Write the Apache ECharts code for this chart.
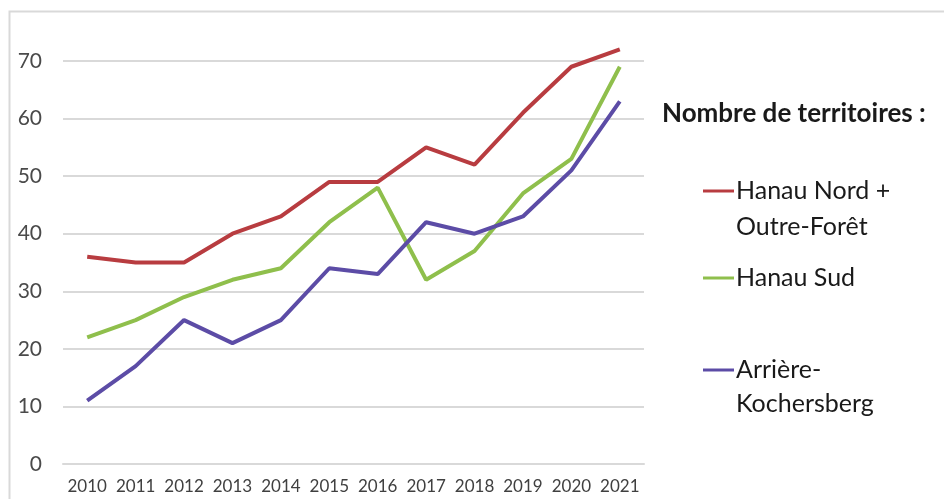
<!DOCTYPE html>
<html>
<head>
<meta charset="utf-8">
<script src="https://cdn.jsdelivr.net/npm/echarts@6/dist/echarts.min.js"></script>
<style>
  html, body { margin: 0; padding: 0; background: #fff; }
  #chart { width: 944px; height: 499px; }
</style>
</head>
<body>
<div id="chart"></div>
<script>
var years = ['2010', '2011', '2012', '2013', '2014', '2015', '2016', '2017', '2018', '2019', '2020', '2021']
var hanauNord = [36, 35, 35, 40, 43, 49, 49, 55, 52, 61, 69, 72]
var hanauSud = [22, 25, 29, 32, 34, 42, 48, 32, 37, 47, 53, 69]
var arriere = [11, 17, 25, 21, 25, 34, 33, 42, 40, 43, 51, 63]
// legend labels wrap onto a second line in the original
var seriesNames = ['Hanau Nord + Outre-Forêt', 'Hanau Sud', 'Arrière-Kochersberg']
var firstLines = ['Hanau Nord +', 'Hanau Sud', 'Arrière-']
var secondLines = ['Outre-Forêt', '', 'Kochersberg']
var colors = ['#b83c40', '#8fbf4c', '#5c4ca6']

var font = 'Lato, "Open Sans", sans-serif'
var legendFont = 25

function legendAt(i, iconY) {
  return {
    data: [seriesNames[i]],
    left: 703,
    top: iconY - 15,
    icon: 'rect',
    itemWidth: 31,
    itemHeight: 3,
    itemGap: 0,
    padding: 0,
    selectedMode: false,
    formatter: function () { return firstLines[i] },
    textStyle: {
      fontFamily: font,
      fontSize: legendFont,
      color: '#1a1a1a',
      lineHeight: 30,
      padding: [0, 0, 0, -3]
    }
  }
}

function textAt(str, x, centerY, bold, size) {
  return {
    type: 'text',
    left: x,
    top: centerY - 15,
    style: {
      text: str,
      font: (bold ? 'bold ' : '') + size + 'px ' + font,
      lineHeight: 30,
      fill: '#1a1a1a'
    }
  }
}

var chart = echarts.init(document.getElementById('chart'))
chart.setOption({
  animation: false,
  color: colors,
  graphic: [{
    type: 'rect',
    shape: { x: 9.5, y: 11.5, width: 960, height: 520 },
    style: { fill: 'none', stroke: '#d9d9d9', lineWidth: 2 }
  },
    textAt('Nombre de territoires :', 662, 114, true, 26),
    textAt(secondLines[0], 736, 227, false, legendFont),
    textAt(secondLines[2], 736, 404, false, legendFont)
  ],
  legend: [
    legendAt(0, 191),
    legendAt(1, 278),
    legendAt(2, 370)
  ],
  grid: { left: 63, right: 300, top: 61, bottom: 35 },
  xAxis: {
    type: 'category',
    data: years,
    boundaryGap: true,
    axisLine: { lineStyle: { color: '#d9d9d9', width: 2 } },
    axisTick: { show: false },
    axisLabel: { interval: 0, color: '#404040', fontFamily: font, fontSize: 17, margin: 14 }
  },
  yAxis: {
    type: 'value',
    min: 0,
    max: 70,
    interval: 10,
    axisLine: { show: false },
    axisTick: { show: false },
    axisLabel: { color: '#4a4a4a', fontFamily: font, fontSize: 21, margin: 21 },
    splitLine: { lineStyle: { color: '#d9d9d9', width: 2 } }
  },
  series: [
    { name: seriesNames[0], type: 'line', data: hanauNord, symbol: 'none', clip: false, lineStyle: { width: 4 } },
    { name: seriesNames[1], type: 'line', data: hanauSud, symbol: 'none', clip: false, lineStyle: { width: 4 } },
    { name: seriesNames[2], type: 'line', data: arriere, symbol: 'none', clip: false, lineStyle: { width: 4 } }
  ]
})
</script>
</body>
</html>
